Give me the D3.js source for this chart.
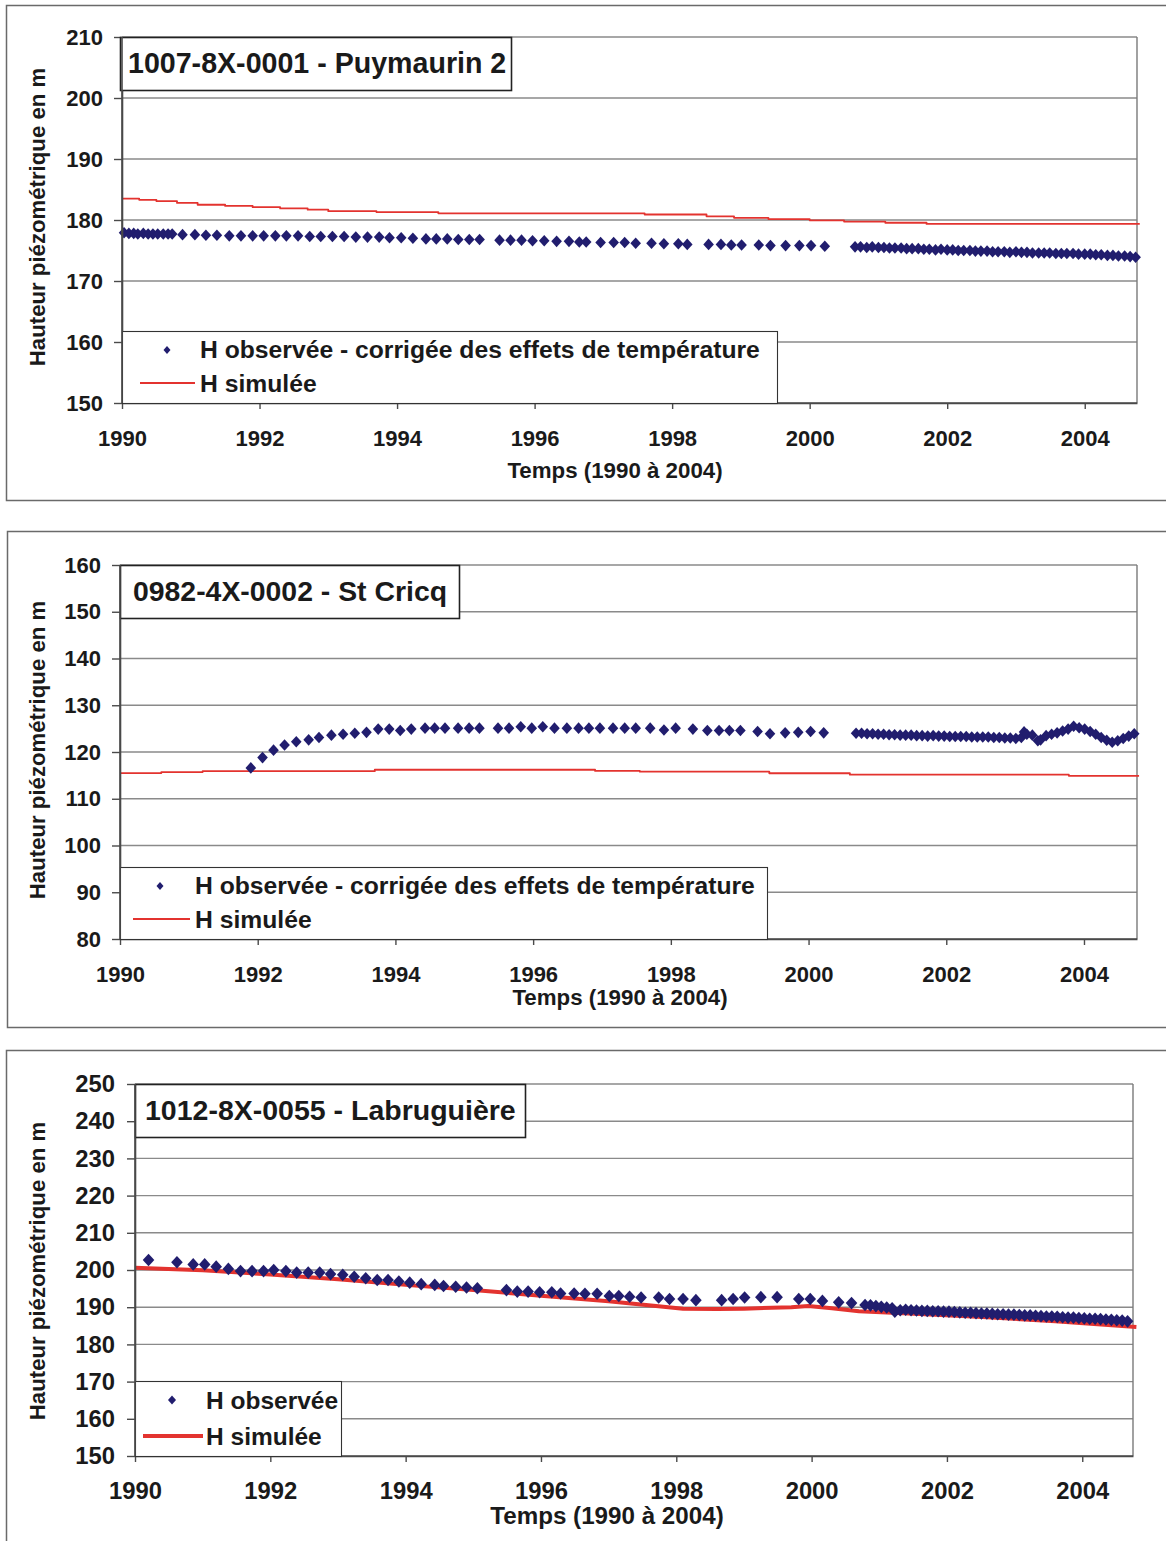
<!DOCTYPE html>
<html><head><meta charset="utf-8">
<script src="https://cdn.jsdelivr.net/npm/d3@7"></script>
<style>
body{margin:0;background:#fff}
text{font-family:"Liberation Sans",Arial,sans-serif;font-weight:bold;fill:#1a1a1a}
</style>
</head><body>
<svg id="c" width="1166" height="1541"></svg>
<script>
// ---------- tick labels ----------
const xTickYears = [1990,1992,1994,1996,1998,2000,2002,2004];
const p1YTicks = [150,160,170,180,190,200,210];
const p2YTicks = [80,90,100,110,120,130,140,150,160];
const p3YTicks = [150,160,170,180,190,200,210,220,230,240,250];

// ---------- texts ----------
const titles = ["1007-8X-0001 - Puymaurin 2","0982-4X-0002 - St Cricq","1012-8X-0055 - Labruguière"];
const legendObsLong = "H observée - corrigée des effets de température";
const legendObsShort = "H observée";
const legendSim = "H simulée";
const xTitle = "Temps (1990 à 2004)";
const yTitle = "Hauteur piézométrique en m";

// ---------- panel 1 : Puymaurin 2 ----------
const p1ObsT = [1990.03,1990.10,1990.17,1990.23,1990.31,1990.38,1990.45,1990.52,1990.60,1990.67,1990.73,
1990.88,1991.06,1991.22,1991.38,1991.56,1991.73,1991.90,1992.06,1992.23,1992.39,1992.56,1992.73,1992.89,1993.06,1993.23,1993.40,1993.57,1993.74,1993.89,1994.06,1994.23,1994.42,1994.57,1994.73,1994.89,1995.05,1995.20,1995.49,1995.65,1995.81,1995.97,1996.14,1996.32,1996.50,1996.65,1996.75,1996.96,
1997.15,1997.31,1997.47,1997.70,1997.88,1998.09,1998.22,1998.53,1998.71,1998.86,1999.01,1999.26,1999.43,1999.65,1999.85,2000.02,2000.22,
2000.66,2000.74,2000.83,2000.91,2001.00,2001.08,2001.16,2001.24,2001.33,2001.41,2001.49,2001.58,2001.66,2001.74,2001.83,2001.91,2002.00,2002.08,2002.16,2002.24,2002.33,2002.41,2002.49,2002.58,2002.66,2002.74,2002.83,2002.91,2003.00,2003.08,2003.16,2003.24,2003.33,2003.41,2003.49,2003.58,2003.66,2003.74,2003.83,2003.91,2004.00,2004.08,2004.16,2004.24,2004.33,2004.41,2004.49,2004.58,2004.66,2004.74];
const p1Obs = [177.9,177.8,177.8,177.7,177.8,177.7,177.7,177.7,177.7,177.7,177.7,
177.6,177.6,177.5,177.5,177.4,177.4,177.4,177.4,177.4,177.4,177.4,177.3,177.3,177.3,177.3,177.2,177.2,177.2,177.1,177.1,177.0,176.9,176.9,176.9,176.8,176.8,176.8,176.7,176.7,176.7,176.6,176.6,176.5,176.5,176.4,176.4,176.3,
176.3,176.3,176.2,176.2,176.1,176.1,176.0,176.0,176.0,175.9,175.9,175.9,175.8,175.8,175.8,175.8,175.7,
175.6,175.6,175.5,175.6,175.5,175.5,175.4,175.4,175.4,175.3,175.3,175.3,175.2,175.2,175.1,175.2,175.1,175.1,175.0,175.0,175.0,174.9,174.9,174.9,174.8,174.8,174.8,174.7,174.8,174.7,174.7,174.6,174.6,174.6,174.6,174.5,174.5,174.5,174.5,174.4,174.4,174.4,174.3,174.3,174.2,174.2,174.1,174.1,174.0,173.9];
const p1SimT = [1990.0,1990.25,1990.5,1990.8,1991.1,1991.5,1991.9,1992.3,1992.7,1993.0,1993.7,1994.6,1997.6,1998.5,1998.9,1999.4,2000.0,2000.5,2001.1,2001.7,2004.8];
const p1Sim = [183.5,183.3,183.1,182.8,182.5,182.3,182.1,181.9,181.7,181.45,181.3,181.1,180.9,180.6,180.35,180.15,179.95,179.75,179.55,179.35,179.35];

// ---------- panel 2 : St Cricq ----------
const p2ObsT = [1991.90,1992.07,1992.23,1992.39,1992.56,1992.74,1992.89,1993.07,1993.24,1993.41,1993.58,1993.75,1993.91,1994.07,1994.23,1994.43,1994.57,1994.72,1994.91,1995.07,1995.22,1995.49,1995.65,1995.82,1995.98,1996.14,1996.31,1996.49,1996.66,1996.81,1996.97,1997.16,1997.33,1997.49,1997.70,1997.90,1998.07,
1998.32,1998.53,1998.70,1998.85,1999.01,1999.26,1999.44,1999.66,1999.85,2000.03,2000.22,
2000.69,2000.77,2000.85,2000.93,2001.01,2001.09,2001.17,2001.25,2001.33,2001.41,2001.49,2001.57,2001.65,2001.73,2001.81,2001.89,2001.97,2002.05,2002.13,2002.21,2002.29,2002.37,2002.45,2002.53,2002.61,2002.69,2002.77,2002.85,2002.93,2003.01,2003.09,2003.13,2003.17,2003.25,2003.33,2003.37,2003.45,2003.53,2003.61,2003.69,2003.77,2003.85,2003.93,2004.01,2004.09,2004.17,2004.25,2004.33,2004.41,2004.49,2004.57,2004.65,2004.73];
const p2Obs = [116.6,118.8,120.4,121.5,122.2,122.6,123.1,123.6,123.8,124.0,124.2,124.9,124.9,124.6,124.9,125.1,125.1,125.1,125.1,125.1,125.1,125.1,125.1,125.4,125.1,125.4,125.1,125.1,125.1,125.1,125.1,125.1,125.1,125.1,125.1,124.7,125.1,
124.9,124.6,124.6,124.6,124.6,124.4,123.9,124.1,124.2,124.4,124.1,
124.0,124.0,123.9,123.9,123.8,123.8,123.7,123.7,123.6,123.6,123.6,123.5,123.5,123.4,123.5,123.4,123.4,123.3,123.3,123.3,123.3,123.2,123.2,123.2,123.2,123.1,123.1,123.0,123.0,122.9,123.1,124.3,123.8,123.6,122.4,122.6,123.5,123.8,124.1,124.5,124.9,125.5,125.2,124.9,124.4,123.8,123.1,122.5,122.1,122.4,122.9,123.4,123.9];
const p2SimT = [1990.0,1990.6,1991.2,1993.7,1996.9,1997.55,1999.43,2000.6,2003.78,2004.8];
const p2Sim = [115.5,115.7,115.9,116.2,115.95,115.8,115.45,115.15,114.9,114.9];

// ---------- panel 3 : Labruguière ----------
const p3ObsT = [1990.20,1990.62,1990.86,1991.03,1991.20,1991.38,1991.56,1991.73,1991.90,1992.05,1992.23,1992.39,1992.56,1992.73,1992.89,1993.07,1993.24,1993.41,1993.58,1993.74,1993.90,1994.06,1994.23,1994.43,1994.56,1994.74,1994.90,1995.06,
1995.49,1995.65,1995.81,1995.98,1996.16,1996.29,1996.49,1996.65,1996.83,1997.01,1997.15,1997.31,1997.48,1997.74,1997.90,1998.10,1998.29,1998.67,1998.84,1999.01,1999.25,1999.49,1999.81,1999.98,2000.16,2000.40,2000.59,
2000.79,2000.87,2000.95,2001.03,2001.11,2001.19,2001.23,2001.31,2001.39,2001.47,2001.55,2001.63,2001.71,2001.79,2001.87,2001.95,2002.03,2002.11,2002.19,2002.27,2002.35,2002.43,2002.51,2002.59,2002.67,2002.75,2002.83,2002.91,2002.99,2003.07,2003.15,2003.23,2003.31,2003.39,2003.47,2003.55,2003.63,2003.71,2003.79,2003.87,2003.95,2004.03,2004.11,2004.19,2004.27,2004.35,2004.43,2004.51,2004.59,2004.67];
const p3Obs = [202.7,202.1,201.5,201.5,200.9,200.3,199.7,199.7,199.7,200.0,199.7,199.3,199.3,199.3,198.9,198.7,198.2,197.8,197.3,197.3,196.9,196.6,196.2,196.0,195.7,195.5,195.3,195.1,
194.6,194.2,194.2,194.0,194.0,193.7,193.7,193.6,193.6,193.0,193.0,192.8,192.6,192.6,192.2,192.2,191.9,191.9,192.2,192.6,192.7,192.7,192.2,192.2,191.7,191.3,191.1,
190.6,190.5,190.3,190.1,189.9,189.7,188.8,189.2,189.3,189.2,189.1,189.0,189.0,188.9,188.9,188.8,188.8,188.7,188.6,188.5,188.5,188.4,188.3,188.3,188.2,188.1,188.1,188.0,188.0,187.9,187.8,187.8,187.7,187.6,187.5,187.5,187.4,187.3,187.2,187.2,187.1,187.0,186.9,186.9,186.8,186.7,186.6,186.5,186.4,186.2];
const p3SimT = [1990.0,1991.0,1992.0,1993.0,1994.0,1995.0,1996.0,1997.0,1997.7,1998.1,1998.6,1999.0,1999.7,1999.95,2000.3,2000.7,2001.6,2002.6,2003.6,2004.8];
const p3Sim = [200.6,199.9,198.8,197.5,196.0,194.6,193.1,191.6,190.3,189.6,189.5,189.6,190.0,190.3,189.7,188.9,188.2,187.3,186.2,184.7];

// ---------- layout ----------
const OBS_COLOR = "#211d6e";
const SIM_COLOR = "#e3332f";
const panels = [
  {frame:[6.5,5.5,1200,495], left:122, right:1137, top:37, bottom:403, xEnd:2004.76,
   yDomain:[150,210], yTicks:p1YTicks, obsT:p1ObsT, obs:p1Obs, simT:p1SimT, sim:p1Sim, step:true, simW:1.8,
   dw:5.3, dh:5.8, tickFont:22, yPad:11, xPad:21, title:titles[0], titleFont:28.6, titleBox:[120,37,391,53], titleX:128, titleY:73,
   legend:{box:[122,331,655,72], dX:167, dY:350, tX:200, t1Y:358, lx1:140, lx2:195, lY:383, t2Y:392, label:legendObsLong, font:24.7, dw:3.5, dh:4},
   xTitleX:615, xTitleY:478, xTitleFont:22.3, yTitleX:45, yTitleY:217, yTitleFont:22.2},
  {frame:[7.5,531.5,1200,496], left:120, right:1137, top:565, bottom:939, xEnd:2004.77,
   yDomain:[80,160], yTicks:p2YTicks, obsT:p2ObsT, obs:p2Obs, simT:p2SimT, sim:p2Sim, step:true, simW:1.8,
   dw:5.3, dh:5.8, tickFont:22, yPad:11, xPad:21, title:titles[1], titleFont:28.4, titleBox:[120,565,339,53], titleX:133, titleY:601,
   legend:{box:[120,867,647,72], dX:160, dY:886, tX:195, t1Y:894, lx1:133, lx2:190, lY:919, t2Y:928, label:legendObsLong, font:24.7, dw:3.5, dh:4},
   xTitleX:620, xTitleY:1005, xTitleFont:22.3, yTitleX:45, yTitleY:750, yTitleFont:22.2},
  {frame:[6.5,1050.5,1200,520], left:135, right:1133, top:1084, bottom:1456, xEnd:2004.75,
   yDomain:[150,250], yTicks:p3YTicks, obsT:p3ObsT, obs:p3Obs, simT:p3SimT, sim:p3Sim, step:false, simW:4,
   dw:5.8, dh:6.3, tickFont:23.8, yPad:12, xPad:20, title:titles[2], titleFont:28.5, titleBox:[135,1084,390,53], titleX:145, titleY:1120,
   legend:{box:[135,1381,206,75], dX:172, dY:1400, tX:206, t1Y:1409, lx1:143, lx2:203, lY:1436, t2Y:1445, label:legendObsShort, font:24.5, dw:4, dh:4.5},
   xTitleX:607, xTitleY:1524, xTitleFont:24.2, yTitleX:45, yTitleY:1271, yTitleFont:22.2}
];

const diamond = (w,h) => `M0,${-h}L${w},0L0,${h}L${-w},0Z`;
const svg = d3.select("#c");

function drawPanel(p){
  const g = svg.append("g");
  g.append("rect").attr("x",p.frame[0]).attr("y",p.frame[1]).attr("width",p.frame[2]).attr("height",p.frame[3])
    .attr("fill","#fff").attr("stroke","#6a6a6a").attr("stroke-width",1.5);

  const x = d3.scaleLinear().domain([1990,p.xEnd]).range([p.left,p.right]);
  const y = d3.scaleLinear().domain(p.yDomain).range([p.bottom,p.top]);

  // gridlines
  g.append("g").selectAll("line").data(p.yTicks.slice(1)).join("line")
    .attr("x1",p.left).attr("x2",p.right).attr("y1",d=>y(d)).attr("y2",d=>y(d))
    .attr("stroke","#8a8a8a").attr("stroke-width",1.4);
  // right border
  g.append("line").attr("x1",p.right).attr("x2",p.right).attr("y1",p.top).attr("y2",p.bottom)
    .attr("stroke","#7a7a7a").attr("stroke-width",1.4);

  // simulated
  const simData = p.simT.map((t,i)=>[t,p.sim[i]]);
  g.append("path").datum(simData)
    .attr("d", d3.line().x(d=>x(d[0])).y(d=>y(d[1])).curve(p.step?d3.curveStepAfter:d3.curveLinear))
    .attr("fill","none").attr("stroke",SIM_COLOR).attr("stroke-width",p.simW).attr("stroke-linejoin","round");

  // observed
  const obsData = p.obsT.map((t,i)=>[t,p.obs[i]]);
  g.append("g").selectAll("path").data(obsData).join("path")
    .attr("transform",d=>`translate(${x(d[0])},${y(d[1])})`)
    .attr("d",diamond(p.dw,p.dh)).attr("fill",OBS_COLOR);

  // axes
  const ya = g.append("g").attr("transform",`translate(${p.left},0)`)
    .call(d3.axisLeft(y).tickValues(p.yTicks).tickSize(8).tickSizeOuter(0).tickPadding(p.yPad).tickFormat(d3.format("d")));
  const xa = g.append("g").attr("transform",`translate(0,${p.bottom})`)
    .call(d3.axisBottom(x).tickValues(xTickYears).tickSize(6).tickSizeOuter(0).tickPadding(p.xPad).tickFormat(d3.format("d")));
  [ya,xa].forEach(a=>{
    a.attr("font-size",p.tickFont).attr("color","#4a4a4a");
    a.selectAll("line").attr("stroke-width",1.4);
    a.select(".domain").attr("stroke-width",1.6);
  });
  g.append("line").attr("x1",p.left).attr("x2",p.right).attr("y1",p.bottom).attr("y2",p.bottom)
    .attr("stroke","#4a4a4a").attr("stroke-width",1.6);

  // title box
  g.append("rect").attr("x",p.titleBox[0]+0.5).attr("y",p.titleBox[1]+0.5).attr("width",p.titleBox[2]).attr("height",p.titleBox[3])
    .attr("fill","#fff").attr("stroke","#222").attr("stroke-width",1.6);
  g.append("text").attr("x",p.titleX).attr("y",p.titleY).attr("font-size",p.titleFont).text(p.title);

  // legend
  const L = p.legend;
  g.append("rect").attr("x",L.box[0]+0.5).attr("y",L.box[1]+0.5).attr("width",L.box[2]).attr("height",L.box[3])
    .attr("fill","#fff").attr("stroke","#333").attr("stroke-width",1.1);
  g.append("path").attr("transform",`translate(${L.dX},${L.dY})`).attr("d",diamond(L.dw,L.dh)).attr("fill",OBS_COLOR);
  g.append("text").attr("x",L.tX).attr("y",L.t1Y).attr("font-size",L.font).text(L.label);
  g.append("line").attr("x1",L.lx1).attr("x2",L.lx2).attr("y1",L.lY).attr("y2",L.lY)
    .attr("stroke",SIM_COLOR).attr("stroke-width",p.simW);
  g.append("text").attr("x",L.tX).attr("y",L.t2Y).attr("font-size",L.font).text(legendSim);
  g.append("line").attr("x1",p.left).attr("x2",p.left).attr("y1",p.top).attr("y2",p.bottom)
    .attr("stroke","#4a4a4a").attr("stroke-width",1.6);

  // axis titles
  g.append("text").attr("x",p.xTitleX).attr("y",p.xTitleY).attr("text-anchor","middle")
    .attr("font-size",p.xTitleFont).text(xTitle);
  g.append("text").attr("transform",`translate(${p.yTitleX},${p.yTitleY}) rotate(-90)`).attr("text-anchor","middle")
    .attr("font-size",p.yTitleFont).text(yTitle);
}
panels.forEach(drawPanel);
</script>
</body></html>
